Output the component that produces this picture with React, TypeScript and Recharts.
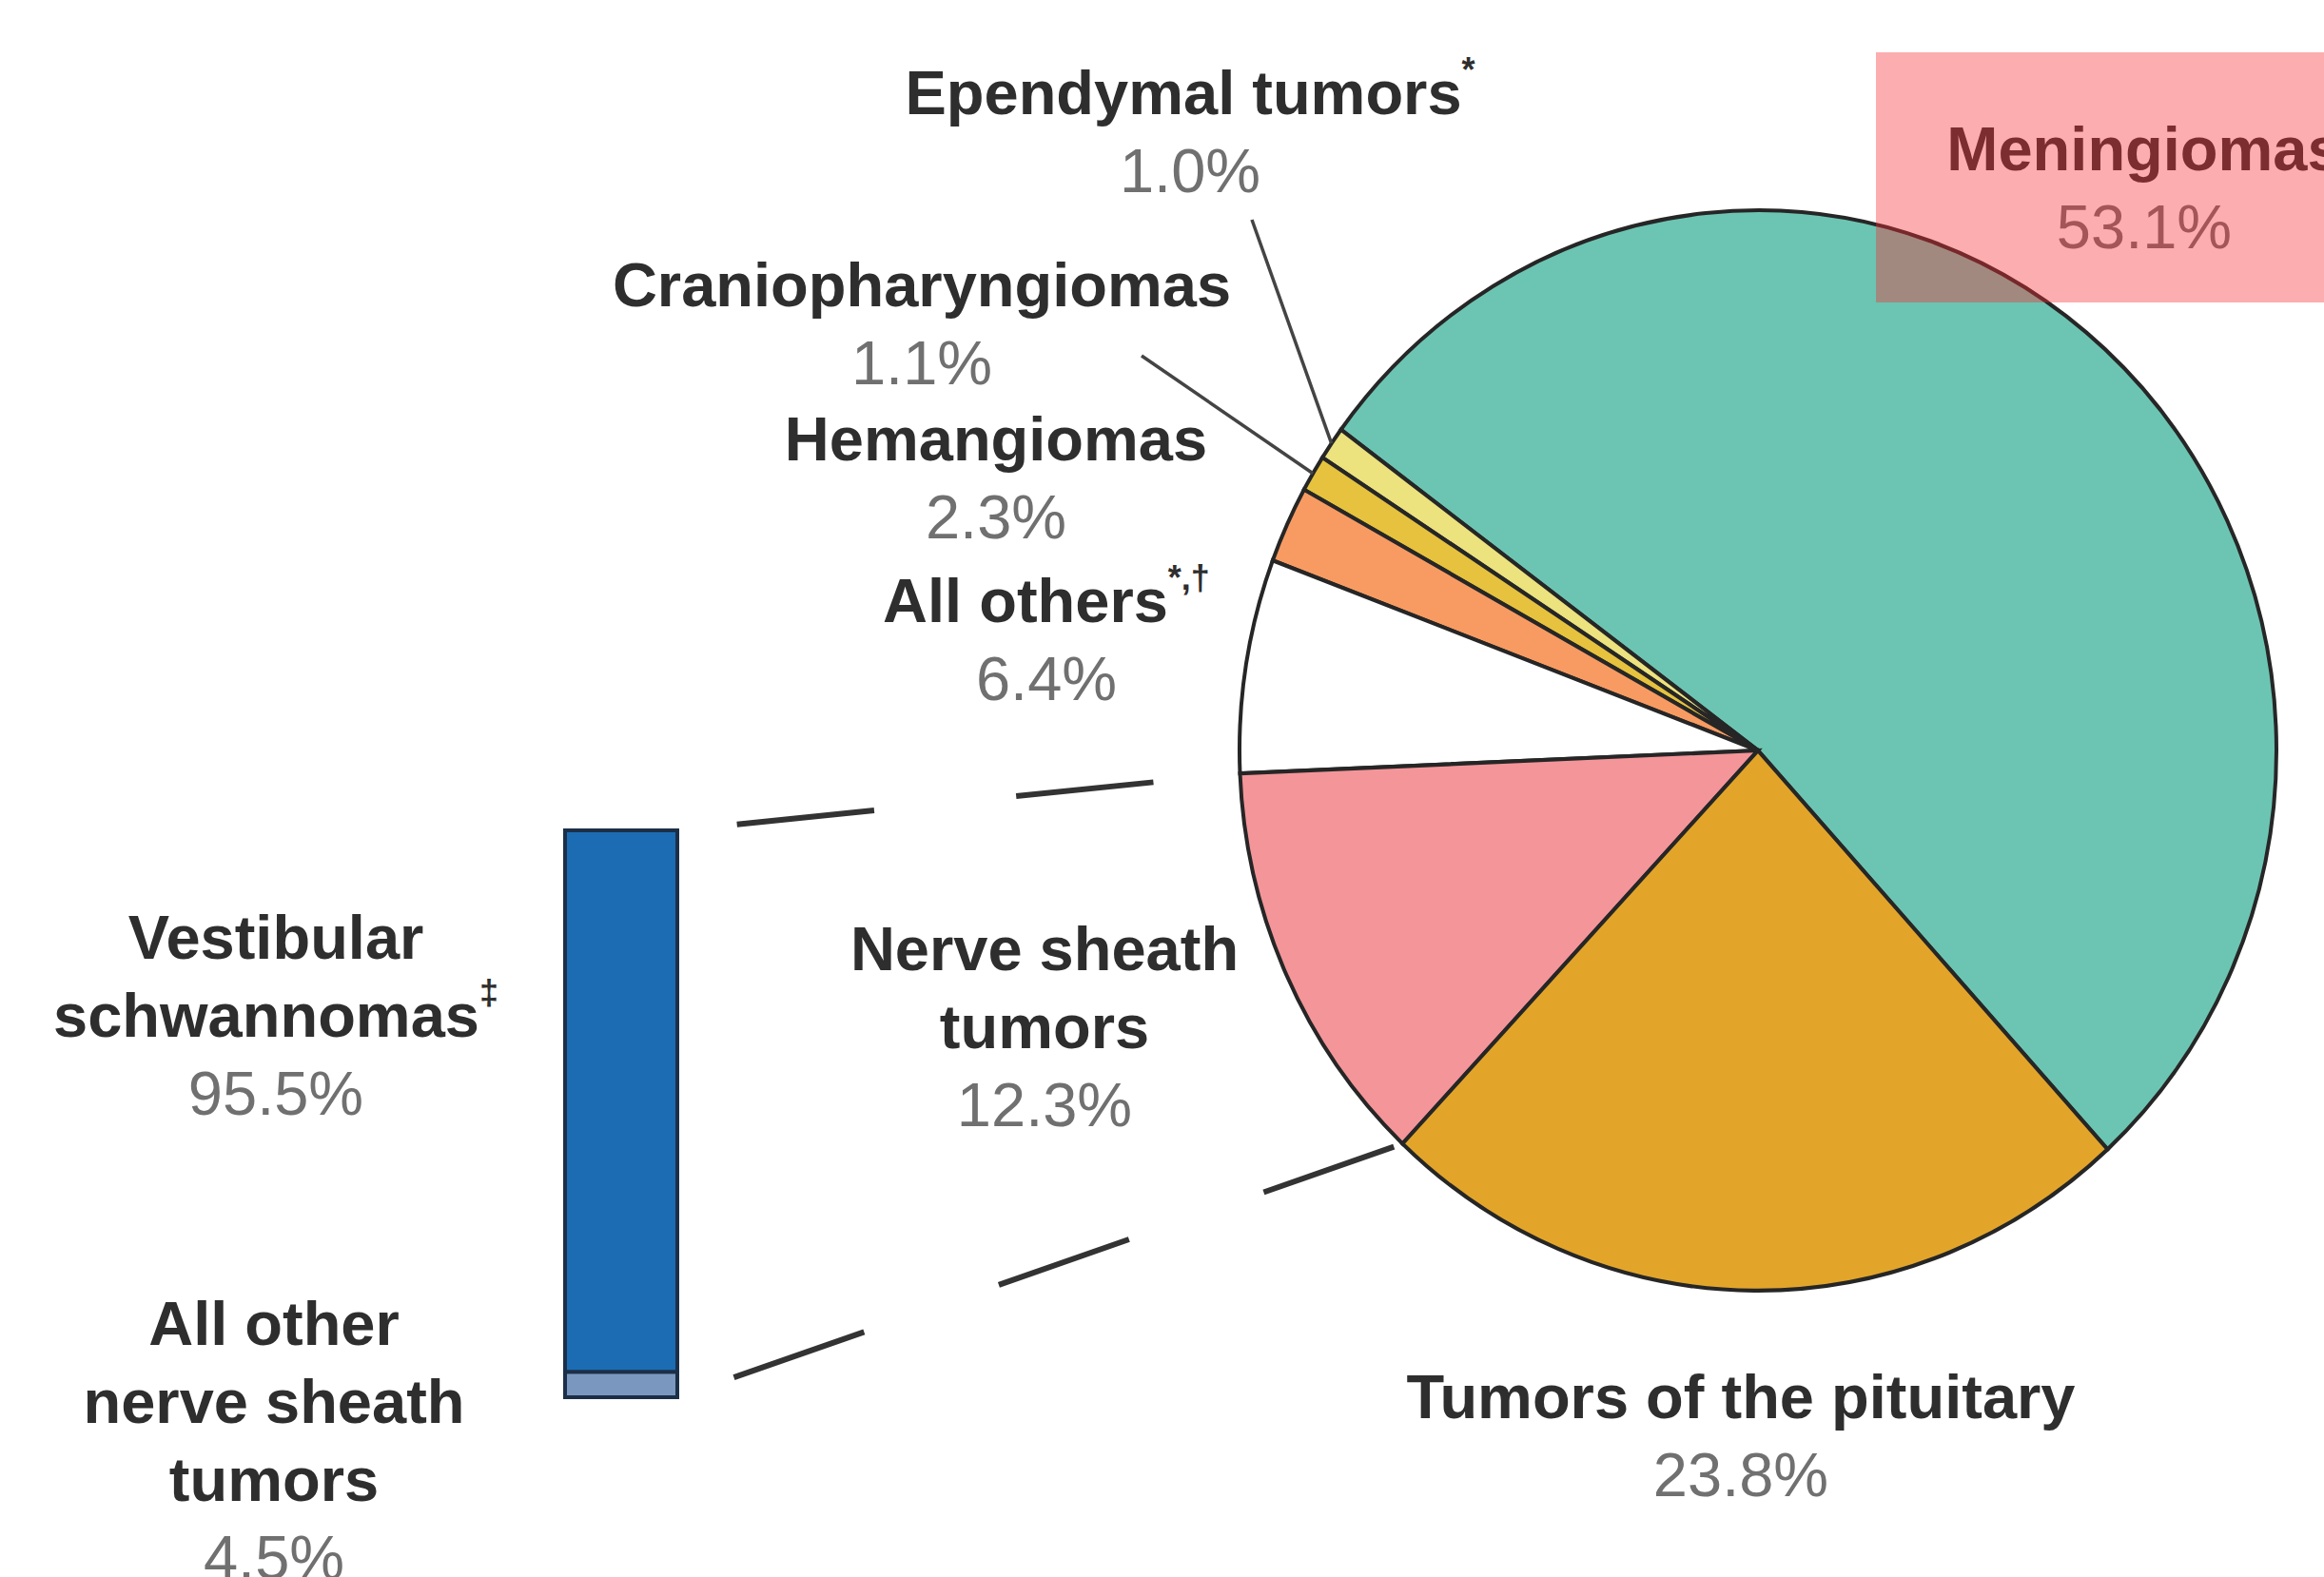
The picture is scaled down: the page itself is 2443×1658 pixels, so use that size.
import { Bar, BarChart, Cell, Pie, PieChart, XAxis, YAxis } from "recharts";

const W = 2443;
const H = 1658;

// pie slices, counter-clockwise from the lower right
const SLICE_NAMES = [
  "Meningiomas",
  "Ependymal tumors",
  "Craniopharyngiomas",
  "Hemangiomas",
  "All others",
  "Nerve sheath tumors",
  "Tumors of the pituitary",
];
const SLICE_VALUES = [53.1, 1.0, 1.1, 2.3, 6.4, 12.3, 23.8];
const SLICE_COLORS = ["#6cc5b2", "#ece27e", "#e6c23e", "#f89b62", "#ffffff", "#f49599", "#e2a52a"];
// label lines: [text, superscript]
const SLICE_LABELS: [string, string?][][] = [
  [["Meningiomas"]],
  [["Ependymal tumors", "*"]],
  [["Craniopharyngiomas"]],
  [["Hemangiomas"]],
  [["All others", "*,†"]],
  [["Nerve sheath"], ["tumors"]],
  [["Tumors of the pituitary"]],
];

// breakdown of nerve sheath tumors (stacked bar)
const BAR_NAMES = ["Vestibular schwannomas", "All other nerve sheath tumors"];
const BAR_VALUES = [95.5, 4.5];
const BAR_LABELS: [string, string?][][] = [
  [["Vestibular"], ["schwannomas", "‡"]],
  [["All other"], ["nerve sheath"], ["tumors"]],
];

// layout
const CX = 1848;
const CY = 789;
const R = 545;
const KY = 1.042; // the source pie is slightly taller than wide
const START = -47.6;
const LINE = 82;
const FS = 65;
const FONT = "'Liberation Sans', Arial, Helvetica, sans-serif";
const SLICE_LABEL_POS = [
  [2254, 156],
  [1251, 97],
  [969, 299],
  [1047, 461],
  [1100, 631],
  [1098, 997],
  [1830, 1468],
];
const BAR_LABEL_POS = [
  [290, 985],
  [288, 1391],
];
const LEADER_FROM: Record<number, [number, number]> = { 1: [1316, 231], 2: [1200, 374] };
const BAR_BOX = { left: 594, top: 873, width: 118, height: 596 };

const pieData = SLICE_NAMES.map((name, i) => ({ name, value: SLICE_VALUES[i] }));
const barData = [{ name: "Nerve sheath tumors", vestibular: BAR_VALUES[0], other: BAR_VALUES[1] }];

const total = SLICE_VALUES.reduce((a, b) => a + b, 0);
const cum = SLICE_VALUES.map((_, i) => SLICE_VALUES.slice(0, i).reduce((a, b) => a + b, 0));
const angleAt = (v: number) => START + (v / total) * 360;
const onEdge = (deg: number): [number, number] => {
  const r = (deg * Math.PI) / 180;
  return [CX + R * Math.cos(r), CY - R * KY * Math.sin(r)];
};

function Label({ x, y, lines, pct }: { x: number; y: number; lines: [string, string?][]; pct: string }) {
  return (
    <g fontFamily={FONT} fontSize={FS} textAnchor="middle">
      {lines.map(([t, sup], j) => (
        <text key={j} x={x} y={y + j * LINE} dominantBaseline="central" fontWeight={700} fill="#2e2e2e">
          {t}
          {sup && (
            <tspan fontSize={36} dy={-24}>
              {sup}
            </tspan>
          )}
        </text>
      ))}
      <text x={x} y={y + lines.length * LINE} dominantBaseline="central" fill="#707070">
        {pct}
      </text>
    </g>
  );
}

export default function App() {
  const nerveIdx = SLICE_NAMES.indexOf("Nerve sheath tumors");
  const topPt = onEdge(angleAt(cum[nerveIdx]));
  const botPt = onEdge(angleAt(cum[nerveIdx] + SLICE_VALUES[nerveIdx]));
  const barRight = BAR_BOX.left + BAR_BOX.width;
  const barBottom = BAR_BOX.top + BAR_BOX.height;

  return (
    <div style={{ position: "absolute", left: 0, top: 0, width: W, height: H, overflow: "hidden", background: "#fff" }}>
      <div style={{ position: "absolute", left: 0, top: 0, transform: `scaleY(${KY})`, transformOrigin: `0px ${CY}px` }}>
        <PieChart width={W} height={H} margin={{ top: 0, right: 0, bottom: 0, left: 0 }}>
          <Pie
            data={pieData}
            dataKey="value"
            nameKey="name"
            cx={CX}
            cy={CY}
            outerRadius={R}
            startAngle={START}
            endAngle={START + 360}
            stroke="#262626"
            strokeWidth={4}
            isAnimationActive={false}
          >
            {pieData.map((d, i) => (
              <Cell key={d.name} fill={SLICE_COLORS[i]} />
            ))}
          </Pie>
        </PieChart>
      </div>

      <div style={{ position: "absolute", left: BAR_BOX.left - 6, top: BAR_BOX.top - 4 }}>
        <BarChart
          width={BAR_BOX.width + 12}
          height={BAR_BOX.height + 8}
          data={barData}
          margin={{ top: 4, right: 6, bottom: 4, left: 6 }}
          barCategoryGap={0}
        >
          <XAxis dataKey="name" hide />
          <YAxis hide domain={[0, 100]} />
          <Bar dataKey="other" stackId="a" fill="#7a98bf" stroke="#1c2f48" strokeWidth={4} isAnimationActive={false} />
          <Bar dataKey="vestibular" stackId="a" fill="#1c6cb3" stroke="#1c2f48" strokeWidth={4} isAnimationActive={false} />
        </BarChart>
      </div>

      <svg width={W} height={H} style={{ position: "absolute", left: 0, top: 0, pointerEvents: "none" }}>
        {/* dashed connectors from the nerve sheath slice to the bar */}
        <line x1={barRight} y1={BAR_BOX.top} x2={topPt[0]} y2={topPt[1]} stroke="#333" strokeWidth={6} strokeDasharray="145 150" strokeDashoffset={232} />
        <line x1={barRight} y1={barBottom} x2={botPt[0]} y2={botPt[1]} stroke="#333" strokeWidth={6} strokeDasharray="145 150" strokeDashoffset={232} />

        {Object.entries(LEADER_FROM).map(([k, [x, y]]) => {
          const i = Number(k);
          const [ex, ey] = onEdge(angleAt(cum[i] + SLICE_VALUES[i] / 2));
          return <line key={k} x1={x} y1={y} x2={ex} y2={ey} stroke="#444" strokeWidth={3.5} />;
        })}

        {SLICE_NAMES.map((n, i) => (
          <Label key={n} x={SLICE_LABEL_POS[i][0]} y={SLICE_LABEL_POS[i][1]} lines={SLICE_LABELS[i]} pct={`${SLICE_VALUES[i].toFixed(1)}%`} />
        ))}
        {BAR_NAMES.map((n, i) => (
          <Label key={n} x={BAR_LABEL_POS[i][0]} y={BAR_LABEL_POS[i][1]} lines={BAR_LABELS[i]} pct={`${BAR_VALUES[i].toFixed(1)}%`} />
        ))}

        {/* highlight box */}
        <rect x={1972} y={55} width={W - 1972} height={263} fill="rgb(247,45,50)" fillOpacity={0.39} />
      </svg>
    </div>
  );
}
